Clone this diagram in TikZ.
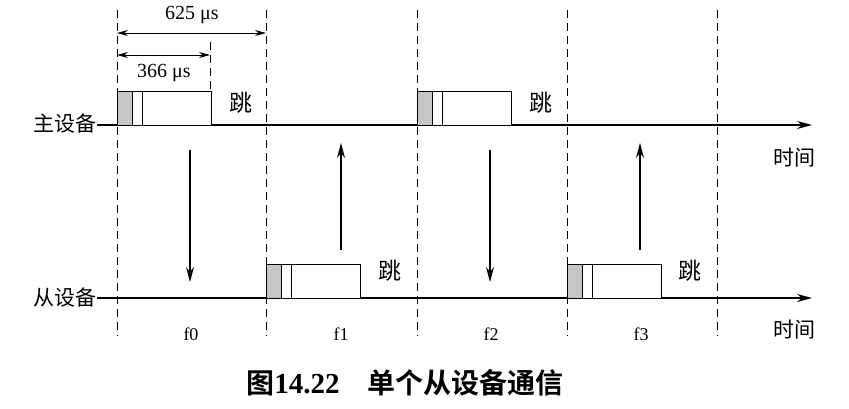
\documentclass[tikz,border=0pt]{standalone}
\usepackage{fontspec}
\setmainfont{Liberation Serif}
\newfontfamily\cjk{Noto Sans CJK SC}
\newfontfamily\cjkb{Noto Sans CJK SC Bold}
\usetikzlibrary{arrows.meta}
\begin{document}
\begin{tikzpicture}[x=1pt,y=-1pt,
  line width=1.1pt,
  ax/.style={-{Stealth[length=15pt,width=8pt]}},
  vr/.style={-{Stealth[length=15pt,width=8pt]}},
  dim/.style={{Stealth[length=11pt,width=6pt]}-{Stealth[length=11pt,width=6pt]}, line width=0.9pt},
  dsh/.style={line width=0.9pt, dash pattern=on 8pt off 5pt},
  lbl/.style={font=\cjk\fontsize{21}{21}\selectfont, inner sep=0pt},
  hop/.style={font=\cjk\fontsize{23}{23}\selectfont, inner sep=0pt},
  num/.style={font=\fontsize{20}{20}\selectfont, inner sep=0pt},
  fl/.style={font=\fontsize{18}{18}\selectfont, inner sep=0pt},
  shade/.style={fill=gray!45, draw=black, line width=1pt},
  pkt/.style={draw=black, line width=1pt, fill=white}
]
\useasboundingbox (0,0) rectangle (849,408);
\fill[white] (0,0) rectangle (849,408);
% dashed slot lines
\foreach \x [count=\i] in {117,266,417,567,717}{
  \coordinate (t\i) at (\x,10);
  \coordinate (b\i) at (\x,336);
  \draw[dsh] (t\i) -- (b\i);
}
% axes
\node[lbl, anchor=east] (master) at (97,124) {主设备};
\node[lbl, anchor=east] (slave) at (97,298) {从设备};
\coordinate (mend) at (812,125);
\coordinate (send) at (812,298);
\draw[ax] (master.east |- 0,125) -- (mend);
\draw[ax] (slave.east |- 0,298) -- (send);
\node[lbl] (time1) at (794,158) {时间};
\node[lbl] (time2) at (794,330) {时间};
% master packets
\foreach \x in {117,417}{
  \draw[pkt] (\x,91) rectangle (\x+94,125);
  \draw[shade] (\x,91) rectangle (\x+15,125);
  \draw[line width=1pt] (\x+25,91) -- (\x+25,125);
}
\node[hop] (hop0) at (241,103) {跳};
\node[hop] (hop2) at (541,103) {跳};
% slave packets
\foreach \x in {266,567}{
  \draw[pkt] (\x,264) rectangle (\x+94,298);
  \draw[shade] (\x,264) rectangle (\x+15,298);
  \draw[line width=1pt] (\x+25,264) -- (\x+25,298);
}
\node[hop] (hop1) at (390,271) {跳};
\node[hop] (hop3) at (690,271) {跳};
% vertical arrows
\coordinate (a0s) at (190,150); \coordinate (a0e) at (190,282);
\coordinate (a1s) at (341,250); \coordinate (a1e) at (341,143);
\coordinate (a2s) at (490,150); \coordinate (a2e) at (490,282);
\coordinate (a3s) at (640,250); \coordinate (a3e) at (640,143);
\draw[vr] (a0s) -- (a0e);
\draw[vr] (a1s) -- (a1e);
\draw[vr] (a2s) -- (a2e);
\draw[vr] (a3s) -- (a3e);
% slot labels
\node[fl] (f0) at (191,334) {f0};
\node[fl] (f1) at (341,334) {f1};
\node[fl] (f2) at (491,334) {f2};
\node[fl] (f3) at (641,334) {f3};
% dimensions
\coordinate (d1a) at (117,33); \coordinate (d1b) at (266,33);
\coordinate (d2a) at (117,55); \coordinate (d2b) at (210,55);
\draw[dim] (d1a) -- (d1b);
\draw[dim] (d2a) -- (d2b);
\draw[dsh] (210,42) -- (210,91);
\node[num] (l625) at (192,15) {625 μs};
\node[num] (l366) at (164,73) {366 μs};
% caption
\node[font=\cjkb\fontsize{28}{28}\selectfont, inner sep=0pt] (cap) at (405,383) {图{\fontsize{29}{29}\selectfont\bfseries\rmfamily 14.22}\hspace{1em}单个从设备通信};
\end{tikzpicture}
\end{document}
